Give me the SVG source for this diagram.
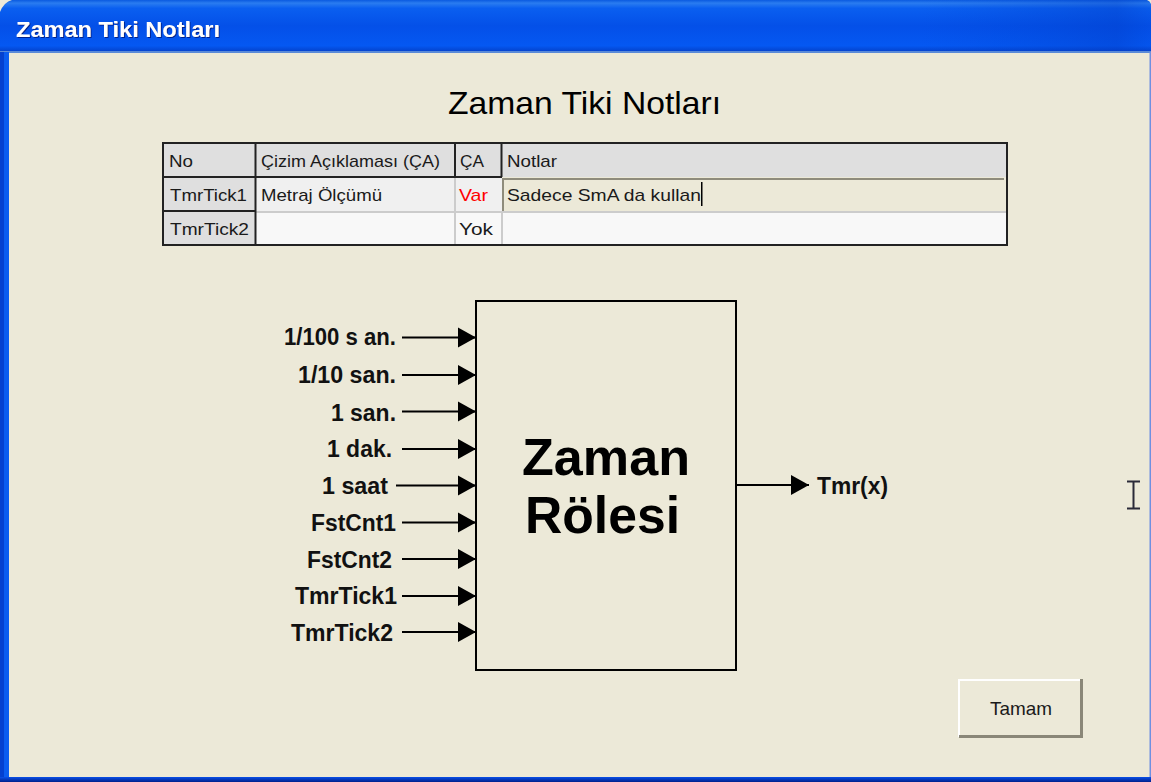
<svg xmlns="http://www.w3.org/2000/svg" width="1151" height="782" viewBox="0 0 1151 782">
<defs>
<linearGradient id="tb" x1="0" y1="0" x2="0" y2="1">
<stop offset="0" stop-color="#0a5ae0"/><stop offset="0.06" stop-color="#2a7cf0"/><stop offset="0.16" stop-color="#0a5ff0"/><stop offset="0.5" stop-color="#0450e8"/><stop offset="0.88" stop-color="#0558f2"/><stop offset="1" stop-color="#0440c8"/>
</linearGradient>
<linearGradient id="tbh" x1="0" y1="0" x2="1" y2="0">
<stop offset="0.8" stop-color="#0040d0" stop-opacity="0"/><stop offset="0.97" stop-color="#0038c0" stop-opacity="0.35"/><stop offset="1" stop-color="#0038c0" stop-opacity="0.1"/>
</linearGradient>
<linearGradient id="bb" x1="0" y1="0" x2="0" y2="1">
<stop offset="0" stop-color="#0a50e8"/><stop offset="1" stop-color="#00208c"/>
</linearGradient>
<filter id="sh" x="-5%" y="-20%" width="110%" height="150%"><feDropShadow dx="1" dy="1" stdDeviation="0.5" flood-color="#00208c"/></filter>
<marker id="ah" markerUnits="userSpaceOnUse" markerWidth="20" markerHeight="22" refX="18" refY="11" orient="auto"><path d="M0 1 L18 11 L0 21 Z" fill="#000"/></marker>
</defs>
<style>
text{font-family:"Liberation Sans",Arial,sans-serif}
.g{font-size:17px;fill:#1a1a1a}
.l{font-size:23.500px;font-weight:bold;fill:#111}
.c{stroke:#000;stroke-width:2;fill:none;marker-end:url(#ah)}
.gl{stroke:#222;stroke-width:2;fill:none}
.gs{stroke:#ccc;stroke-width:2;fill:none}
</style>
<rect width="1151" height="782" fill="#ece9d8"/>
<g id="window">
<rect x="0" y="0" width="1151" height="52" fill="url(#tb)"/>
<rect x="0" y="0" width="1151" height="52" fill="url(#tbh)"/>
<rect x="0" y="51" width="1151" height="2" fill="#5a8ad8"/>
<rect x="0" y="52" width="4" height="730" fill="#0440d0"/>
<rect x="4" y="52" width="5" height="730" fill="#0a5cf0"/>
<rect x="1149.500" y="52" width="1.500" height="730" fill="#6f8fe0"/>
<rect x="0" y="777" width="1151" height="5" fill="url(#bb)"/>
<path d="M0 0H12Q4 2 0 12Z" fill="#ece9d8"/>
<path d="M1151 0H1147Q1150 1 1151 4Z" fill="#ece9d8"/>
<text x="16" y="37" font-size="22" font-weight="bold" fill="#fff" filter="url(#sh)" textLength="204" lengthAdjust="spacingAndGlyphs">Zaman Tiki Notları</text>
</g>
<text id="title" x="448" y="114" font-size="32" fill="#000" textLength="273" lengthAdjust="spacingAndGlyphs">Zaman Tiki Notları</text>
<g id="grid">
<rect x="163" y="143" width="844" height="34" fill="#dfdfdf"/>
<rect x="163" y="177" width="93" height="68" fill="#dfdfdf"/>
<rect x="256" y="178" width="246" height="34" fill="#f0f0f0"/>
<rect x="256" y="212" width="751" height="33" fill="#f8f8f8"/>
<rect x="502" y="178" width="503" height="34" fill="#ece9d8"/>
<path d="M503 212V179H1004" fill="none" stroke="#8f8c7c" stroke-width="2"/>
<path d="M256 212H1006M455 178V245M502 212V245" class="gs"/>
<rect x="163" y="143" width="844" height="102" class="gl"/>
<path d="M163 177H502M163 211H256M255.500 143V245M455 143V177M501.500 143V177" class="gl"/>
<g lengthAdjust="spacingAndGlyphs">
<text class="g" x="169" y="167" textLength="24" lengthAdjust="spacingAndGlyphs">No</text>
<text class="g" x="261" y="167" textLength="179" lengthAdjust="spacingAndGlyphs">Çizim Açıklaması (ÇA)</text>
<text class="g" x="460" y="167" textLength="24" lengthAdjust="spacingAndGlyphs">ÇA</text>
<text class="g" x="507" y="167" textLength="50" lengthAdjust="spacingAndGlyphs">Notlar</text>
<text class="g" x="170" y="201" textLength="77" lengthAdjust="spacingAndGlyphs">TmrTick1</text>
<text class="g" x="261" y="201" textLength="121" lengthAdjust="spacingAndGlyphs">Metraj Ölçümü</text>
<text class="g" x="459" y="201" style="fill:#f00" textLength="29" lengthAdjust="spacingAndGlyphs">Var</text>
<text class="g" x="507" y="201" textLength="194" lengthAdjust="spacingAndGlyphs">Sadece SmA da kullan</text>
<rect x="701" y="182" width="1.500" height="24" fill="#000"/>
<text class="g" x="170" y="235" textLength="79" lengthAdjust="spacingAndGlyphs">TmrTick2</text>
<text class="g" x="459" y="235" textLength="34" lengthAdjust="spacingAndGlyphs">Yok</text>
</g>
</g>
<g id="timer-relay">
<rect x="476" y="301" width="260" height="369" fill="none" stroke="#000" stroke-width="2"/>
<text x="522" y="475" font-size="52" font-weight="bold" fill="#000" textLength="168" lengthAdjust="spacingAndGlyphs">Zaman</text>
<text x="525" y="533" font-size="52" font-weight="bold" fill="#000" textLength="155" lengthAdjust="spacingAndGlyphs">Rölesi</text>
</g>
<g id="connectors">
<path class="c" d="M402 337.500H476"/>
<path class="c" d="M402 375H476"/>
<path class="c" d="M402 411.500H476"/>
<path class="c" d="M402 449H476"/>
<path class="c" d="M396 485.500H476"/>
<path class="c" d="M402 522.500H476"/>
<path class="c" d="M402 559H476"/>
<path class="c" d="M402 596H476"/>
<path class="c" d="M402 632H476"/>
<path class="c" d="M736 485H809"/>
</g>
<g id="inputs">
<text class="l" x="284" y="345" textLength="112" lengthAdjust="spacingAndGlyphs">1/100 s an.</text>
<text class="l" x="298" y="383" textLength="98" lengthAdjust="spacingAndGlyphs">1/10 san.</text>
<text class="l" x="331" y="421" textLength="65" lengthAdjust="spacingAndGlyphs">1 san.</text>
<text class="l" x="327" y="457" textLength="65" lengthAdjust="spacingAndGlyphs">1 dak.</text>
<text class="l" x="322" y="494" textLength="66" lengthAdjust="spacingAndGlyphs">1 saat</text>
<text class="l" x="311" y="531" textLength="85" lengthAdjust="spacingAndGlyphs">FstCnt1</text>
<text class="l" x="307" y="568" textLength="85" lengthAdjust="spacingAndGlyphs">FstCnt2</text>
<text class="l" x="295" y="604" textLength="102" lengthAdjust="spacingAndGlyphs">TmrTick1</text>
<text class="l" x="291" y="641" textLength="102" lengthAdjust="spacingAndGlyphs">TmrTick2</text>
</g>
<g id="output">
<text class="l" x="817" y="494" textLength="71" lengthAdjust="spacingAndGlyphs">Tmr(x)</text>
</g>
<g id="ok-button">
<rect x="958" y="679" width="124" height="58" fill="#ece9d8"/>
<path d="M959 737V680H1081" fill="none" stroke="#fff" stroke-width="2"/>
<path d="M959 736.500H1081.500V679" fill="none" stroke="#8a8778" stroke-width="3"/>
<text x="990" y="715" font-size="19" fill="#1a1a1a" textLength="62" lengthAdjust="spacingAndGlyphs">Tamam</text>
</g>
<path id="cursor" d="M1127 481.500H1140M1133.500 481.500V508.500M1127 508.500H1140" fill="none" stroke="#2a2a38" stroke-width="2"/>
</svg>
